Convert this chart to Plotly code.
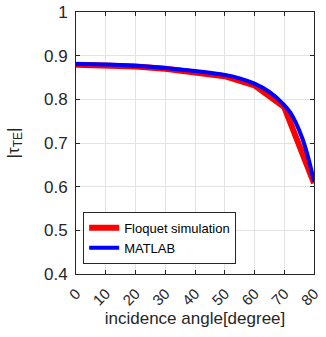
import plotly.graph_objects as go

floquet_angle = [0, 10, 20, 30, 40, 50, 60, 70, 80]
floquet_tau = [0.879, 0.878, 0.875, 0.870, 0.863, 0.853, 0.832, 0.782, 0.608]

matlab_angle = [0, 10, 20, 30, 40, 50, 55, 60, 65, 70, 72, 74, 76, 78, 80]
matlab_tau = [0.881, 0.880, 0.877, 0.872, 0.865, 0.856, 0.848, 0.836, 0.817, 0.787,
              0.770, 0.745, 0.712, 0.668, 0.612]

x_ticks = [0, 10, 20, 30, 40, 50, 60, 70, 80]
y_ticks = [0.4, 0.5, 0.6, 0.7, 0.8, 0.9, 1]
y_tick_text = ["0.4", "0.5", "0.6", "0.7", "0.8", "0.9", "1"]

FONT = "Liberation Sans, Arial"
fig = go.Figure()
fig.add_trace(go.Scatter(x=floquet_angle, y=floquet_tau, mode="lines",
                         name="Floquet simulation",
                         line=dict(color="#ff0000", width=6)))
fig.add_trace(go.Scatter(x=matlab_angle, y=matlab_tau, mode="lines",
                         name="MATLAB",
                         line=dict(color="#0000ff", width=4, shape="spline")))

axis_common = dict(showline=True, linecolor="#262626", linewidth=1, mirror="ticks",
                   ticks="inside", ticklen=4, tickcolor="#262626",
                   showgrid=True, gridcolor="#e3e3e3", gridwidth=1, zeroline=False,
                   automargin=False)

fig.update_xaxes(range=[0, 80], tickvals=x_ticks, tickangle=-45, ticklabelstandoff=4,
                 tickfont=dict(family=FONT, size=15, color="#262626"),
                 title=dict(text="incidence angle[degree]",
                            font=dict(family=FONT, size=17, color="#262626"),
                            standoff=0),
                 **axis_common)
fig.update_yaxes(range=[0.4, 1], tickvals=y_ticks, ticktext=y_tick_text, ticklabelstandoff=4,
                 tickfont=dict(family=FONT, size=17, color="#262626"),
                 title=dict(text="|τ<sub>TE</sub>|",
                            font=dict(family=FONT, size=17, color="#262626"),
                            standoff=20),
                 **axis_common)

fig.update_layout(
    width=326, height=337,
    margin=dict(l=76, r=12, t=12, b=63),
    paper_bgcolor="white", plot_bgcolor="white",
    showlegend=True,
    legend=dict(x=0.03, y=0.237, xanchor="left", yanchor="top",
                bgcolor="white", bordercolor="#262626", borderwidth=1,
                font=dict(family=FONT, size=13, color="#000000"),
                tracegroupgap=0, itemwidth=30),
)

fig.write_html("out.html", config={"displayModeBar": False},
               post_script="document.body.style.margin='0';document.body.style.padding='0';")
